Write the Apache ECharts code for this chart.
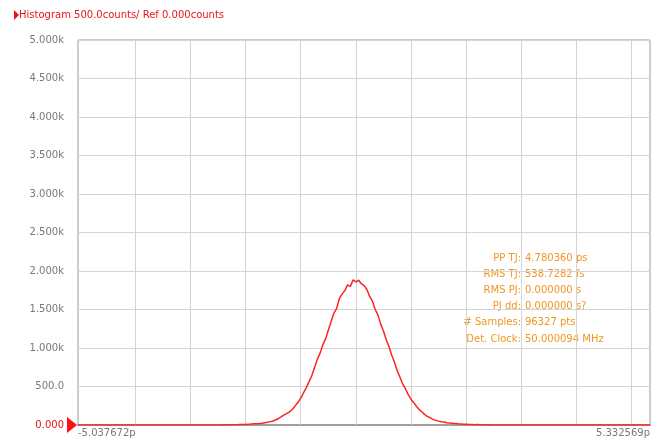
<!DOCTYPE html>
<html>
<head>
<meta charset="utf-8">
<script src="https://cdn.jsdelivr.net/npm/echarts@6/dist/echarts.min.js"></script>
<style>html,body{margin:0;padding:0;background:#fff}#c{width:663px;height:441px}</style>
</head>
<body>
<div id="c"></div>
<script>
// ---- data ----
const titleText = 'Histogram 500.0counts/ Ref 0.000counts';
const xMin = -5.037672;
const xMax = 5.332569;
const xLabelMin = '-5.037672p';
const xLabelMax = '5.332569p';
const xGridValues = [-4, -3, -2, -1, 0, 1, 2, 3, 4, 5];
const yTicks = [0, 500, 1000, 1500, 2000, 2500, 3000, 3500, 4000, 4500, 5000];
const binTimes = [-5.037672,
  -2.50,-2.45,-2.40,-2.35,-2.30,-2.25,-2.20,-2.15,-2.10,-2.05,
  -2.00,-1.95,-1.90,-1.85,-1.80,-1.75,-1.70,-1.65,-1.60,-1.55,
  -1.50,-1.45,-1.40,-1.35,-1.30,-1.25,-1.20,-1.15,-1.10,-1.05,
  -1.00,-0.95,-0.90,-0.85,-0.80,-0.75,-0.70,-0.65,-0.60,-0.55,
  -0.50,-0.45,-0.40,-0.35,-0.30,-0.25,-0.20,-0.15,-0.10,-0.05,
  0.00,0.05,0.10,0.15,0.20,0.25,0.30,0.35,0.40,0.45,
  0.50,0.55,0.60,0.65,0.70,0.75,0.80,0.85,0.90,0.95,
  1.00,1.05,1.10,1.15,1.20,1.25,1.30,1.35,1.40,1.45,
  1.50,1.55,1.60,1.65,1.70,1.75,1.80,1.85,1.90,1.95,
  2.00,2.05,2.10,2.15,2.20,2.25,2.30,2.35,2.40,2.45,2.50,
  5.332569];
const binCounts = [0,
  0,0,2,0,3,2,4,3,6,5,
  8,10,12,15,17,20,24,30,36,44,
  52,68,85,108,132,150,172,205,248,295,
  350,418,482,560,640,745,852,930,1040,1118,
  1230,1340,1450,1510,1640,1700,1745,1820,1800,1885,
  1860,1880,1835,1810,1760,1670,1610,1500,1430,1310,
  1220,1110,1020,905,815,705,620,530,468,395,
  335,290,240,200,168,135,110,92,72,60,
  50,42,38,30,26,22,20,16,14,10,
  9,6,7,4,5,2,3,1,2,0,0,
  0];
const statNames = ['PP TJ:', 'RMS TJ:', 'RMS PJ:', 'PJ dd:', '# Samples:', 'Det. Clock:'];
const statValues = ['4.780360 ps', '538.7282 fs', '0.000000 s', '0.000000 s?', '96327 pts', '50.000094 MHz'];

// ---- chart ----
const FONT = 'DejaVu Sans';
const chart = echarts.init(document.getElementById('c'), null, {renderer: 'canvas'});
const seriesData = binTimes.map((t, i) => [t, binCounts[i]]);

function yFmt(v) {
  if (v === 0) return '0.000';
  if (v < 1000) return v.toFixed(1);
  return (v / 1000).toFixed(3) + 'k';
}

const statGraphics = [];
statNames.forEach((n, i) => {
  statGraphics.push({type: 'text', x: 521, y: 258 + i * 16.2,
    style: {text: n, fill: '#f0961e', font: '10px "' + FONT + '"', textAlign: 'right', textVerticalAlign: 'middle'}});
  statGraphics.push({type: 'text', x: 525, y: 258 + i * 16.2,
    style: {text: statValues[i], fill: '#f0961e', font: '10px "' + FONT + '"', textAlign: 'left', textVerticalAlign: 'middle'}});
});

chart.setOption({
  animation: false,
  backgroundColor: '#ffffff',
  title: {
    text: titleText, left: 14, top: 5,
    textStyle: {color: '#e8141c', fontSize: 10, fontWeight: 'normal', fontFamily: FONT}
  },
  grid: {left: 78, right: 13, top: 40, bottom: 16, show: true, borderColor: '#9a9a9a', borderWidth: 1},
  xAxis: {
    type: 'value', min: xMin, max: xMax,
    axisLine: {show: true, lineStyle: {color: '#a0a0a0', width: 2}},
    axisTick: {show: false},
    splitLine: {show: false},
    axisLabel: {
      show: true, showMinLabel: true, showMaxLabel: true, margin: 3,
      alignMinLabel: 'left', alignMaxLabel: 'right',
      color: '#787878', fontSize: 10, fontFamily: FONT,
      formatter: v => (Math.abs(v - xMin) < 1e-9 ? xLabelMin : (Math.abs(v - xMax) < 1e-9 ? xLabelMax : ''))
    }
  },
  yAxis: {
    type: 'value', min: yTicks[0], max: yTicks[yTicks.length - 1], interval: yTicks[1] - yTicks[0],
    axisLine: {show: true, lineStyle: {color: '#9a9a9a'}},
    axisTick: {show: false},
    splitLine: {show: true, lineStyle: {color: '#d4d4d4', width: 1}},
    axisLabel: {
      margin: 14, fontSize: 10, fontFamily: FONT,
      color: v => (Number(v) === 0 ? '#e8141c' : '#787878'),
      formatter: yFmt
    }
  },
  series: [
    {
      type: 'line', data: [], z: 1, silent: true,
      markLine: {
        silent: true, symbol: ['none', 'none'], animation: false,
        label: {show: false},
        lineStyle: {color: '#d4d4d4', width: 1, type: 'solid'},
        data: xGridValues.map(v => ({xAxis: v}))
      }
    },
    {
      type: 'line', data: seriesData, z: 5, showSymbol: false, symbol: 'none',
      lineStyle: {color: '#ff2222', width: 1.5}
    }
  ],
  graphic: statGraphics
});

// red markers (title arrow and zero-level marker)
const p0 = chart.convertToPixel({xAxisIndex: 0, yAxisIndex: 0}, [xMin, 0]);
chart.setOption({
  graphic: statGraphics.concat([
    {type: 'polygon', shape: {points: [[p0[0] - 11, p0[1] - 8], [p0[0] - 1, p0[1]], [p0[0] - 11, p0[1] + 8]]},
      style: {fill: '#ff1010'}, z: 10},
    {type: 'polygon', shape: {points: [[14, 10], [19, 15], [14, 20]]}, style: {fill: '#e8141c'}, z: 10}
  ])
});
</script>
</body>
</html>
